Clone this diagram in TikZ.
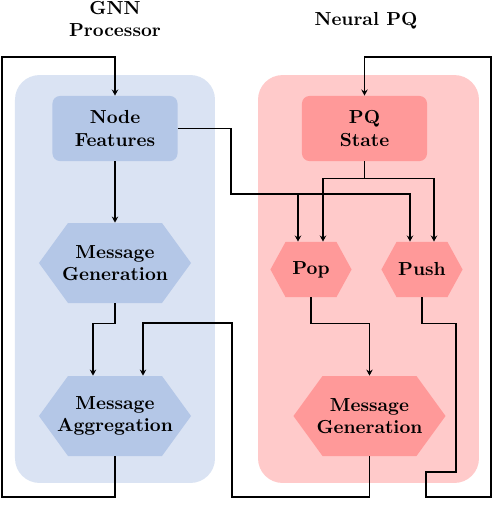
\documentclass[tikz,border=0pt]{standalone}
\usepackage{amsmath,amssymb}
\usepackage{tikz}
\usetikzlibrary{positioning,calc,arrows.meta}
\definecolor{gnnbg}{HTML}{DAE3F3}
\definecolor{gnnfill}{HTML}{B4C7E7}
\definecolor{pqbg}{HTML}{FFCACA}
\definecolor{pqfill}{HTML}{FF9999}

\begin{document}
\begin{tikzpicture}[x=0.53pt,y=-0.53pt,font=\bfseries,
  panel/.style={rounded corners=13pt,inner sep=0pt,minimum height=216.2pt},
  blockbox/.style={rounded corners=4pt,minimum width=66.3pt,minimum height=34.5pt,align=center,inner sep=1pt},
  hexshape/.style 2 args={align=center,inner sep=0pt,
    path picture={\fill[#1] (path picture bounding box.west)
      -- ([xshift=#2]path picture bounding box.north west)
      -- ([xshift=-#2]path picture bounding box.north east)
      -- (path picture bounding box.east)
      -- ([xshift=-#2]path picture bounding box.south east)
      -- ([xshift=#2]path picture bounding box.south west) -- cycle;}},
  hexbig/.style={hexshape={#1}{15.4pt},minimum width=80.6pt,minimum height=42.4pt},
  hexsmall/.style={hexshape={#1}{8pt},minimum width=43pt,minimum height=29.2pt},
  arr/.style={-{Stealth[length=3.2pt,width=3.4pt]},line width=0.9pt}]
\useasboundingbox (0,0) rectangle (496,532);
% panels
\node[panel,fill=gnnbg,minimum width=106pt] (gnnpanel) at (115,279) {};
\node[panel,fill=pqbg,minimum width=117.1pt] (pqpanel) at (368.5,279) {};
\node[align=center] (gnntitle) at (115,19) {GNN\\Processor};
\node (pqtitle) at (366,21) {Neural PQ};
% GNN side
\node[blockbox,fill=gnnfill] (feat) at (115,128.5) {Node\\Features};
\node[hexbig=gnnfill] (mgen) at (115,263) {Message\\Generation};
\node[hexbig=gnnfill] (magg) at (115,416) {Message\\Aggregation};
% PQ side
\node[blockbox,fill=pqfill] (pqs) at (364.5,128.5) {PQ\\State};
\node[hexsmall=pqfill] (pop) at (311,269.5) {Pop};
\node[hexsmall=pqfill] (push) at (422,269.5) {Push};
\node[hexbig=pqfill] (pgen) at (369.5,416) {Message\\Generation};
% corners of the long wires
\coordinate (lbot) at (2,497);
\coordinate (ltop) at (2,57);
\coordinate (fsplit) at (231,194);
\coordinate (fjoin) at (298,194);
\coordinate (r1) at (456,472);
\coordinate (r2) at (426,497);
\coordinate (r3) at (491,57);
\coordinate (m1) at (232,497);
\coordinate (m2) at (143,323);
% wires
\draw[arr] (magg.south) |- (lbot) -- (ltop) -| (feat.north);
\draw[arr] (feat) -- (mgen);
\draw[arr] (mgen.south) -- ++(0,20) -| ($(magg.north)+(-22,0)$);
\draw[arr] (feat.east) -| (fsplit) -| ($(push.north)+(-12,0)$);
\draw[arr] (fjoin) -- (pop.north -| fjoin);
\draw[arr] (pqs.south) -- ++(0,17) -| ($(pop.north)+(12,0)$);
\draw[arr] (pqs.south) -- ++(0,17) -| ($(push.north)+(12,0)$);
\draw[arr] (pop.south) -- ++(0,26) -| (pgen.north);
\draw[arr] (push.south) -- ++(0,26) -| (r1) -| (r2) -| (r3) -| (pqs.north);
\draw[arr] (pgen.south) |- (m1) |- (m2) -- (magg.north -| m2);
\end{tikzpicture}
\end{document}
